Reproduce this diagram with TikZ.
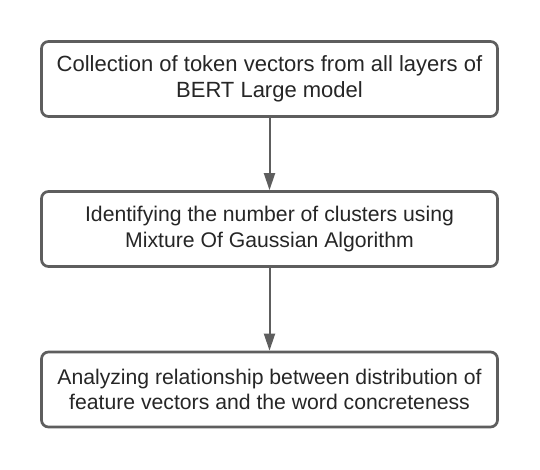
\documentclass[tikz,border=0pt]{standalone}
\usepackage{fontspec}
\setmainfont{Liberation Sans}
\usetikzlibrary{arrows.meta}
\definecolor{linegray}{HTML}{5E5E5E}
\definecolor{textgray}{HTML}{262626}
\begin{document}
\begin{tikzpicture}[x=1pt,y=-1pt,
  box/.style={draw=linegray, line width=2.7pt, rounded corners=7pt, fill=white,
    minimum width=456pt, minimum height=75pt, align=center, inner sep=0pt,
    font=\fontsize{21.2}{25.5}\selectfont, text=textgray},
  bigtext/.style={font=\fontsize{22}{26.5}\selectfont},
  arr/.style={draw=linegray, line width=2pt, -{Triangle[length=17pt,width=11pt]}}]
\fill[white] (0,0) rectangle (540,469);
\useasboundingbox (0,0) rectangle (540,469);
\node[box, bigtext] (b1) at (269.5,79) {Collection of token vectors from all layers of\\BERT Large model};
\node[box] (b2) at (269.5,229) {Identifying the number of clusters using\\Mixture Of Gaussian Algorithm};
\node[box] (b3) at (269.5,389.5) {Analyzing relationship between distribution of\\feature vectors and the word concreteness};
\draw[arr] (b1.south) -- (b2.north);
\draw[arr] (b2.south) -- (b3.north);
\end{tikzpicture}
\end{document}
